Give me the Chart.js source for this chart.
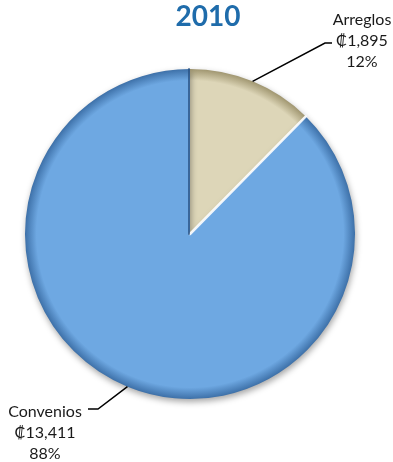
<!DOCTYPE html>
<html>
<head>
<meta charset="utf-8">
<script src="https://cdn.jsdelivr.net/npm/chart.js@4.4.1/dist/chart.umd.min.js"></script>
<style>
  html, body { margin: 0; padding: 0; background: #fff; }
  #contenedor { position: relative; width: 393px; height: 462px; }
</style>
</head>
<body>
<div id="contenedor"><canvas id="grafico"></canvas></div>
<script>
// datos del grafico
const titulo = '2010';
const categorias = ['Arreglos', 'Convenios'];
const montos = [1895, 13411];

// estilos por rebanada
const colores = ['#ddd6b8', '#6ea8e2'];
const bordes = ['#a09670', '#3d70a8'];

// posicion de cada etiqueta (codo de la guia y centro del texto)
const guias = [
  { codo: [325, 43], fin: [332, 43], texto: [362, 20] },
  { codo: [98, 409], fin: [88, 409], texto: [45, 412] }
];

const total = montos.reduce((a, b) => a + b, 0);

function relleno(context) {
  const i = context.dataIndex;
  const chart = context.chart;
  const area = chart.chartArea;
  if (!area) return colores[i];
  const cx = (area.left + area.right) / 2;
  const cy = (area.top + area.bottom) / 2;
  const r = Math.min(area.width, area.height) / 2;
  const g = chart.ctx.createRadialGradient(cx, cy, 0, cx, cy, r);
  g.addColorStop(0, colores[i]);
  g.addColorStop(0.93, colores[i]);
  g.addColorStop(1, bordes[i]);
  return g;
}

// sombra debajo del pastel
const sombra = {
  id: 'sombra',
  beforeDatasetsDraw(chart) {
    const ctx = chart.ctx;
    ctx.save();
    ctx.shadowColor = 'rgba(0,0,0,0.35)';
    ctx.shadowBlur = 6;
    ctx.shadowOffsetX = 1;
    ctx.shadowOffsetY = 3;
  },
  afterDatasetsDraw(chart) {
    chart.ctx.restore();
  }
};

// titulo, bordes entre rebanadas y etiquetas con guia
const etiquetas = {
  id: 'etiquetas',
  afterDatasetsDraw(chart) {
    const ctx = chart.ctx;
    const arcs = chart.getDatasetMeta(0).data;
    ctx.save();

    // separaciones entre rebanadas
    const a0 = arcs[0];
    ctx.lineCap = 'round';
    ctx.strokeStyle = 'rgba(255,255,255,0.9)';
    ctx.lineWidth = 2.5;
    ctx.beginPath();
    ctx.moveTo(a0.x, a0.y);
    ctx.lineTo(a0.x + Math.cos(a0.endAngle) * a0.outerRadius, a0.y + Math.sin(a0.endAngle) * a0.outerRadius);
    ctx.stroke();
    ctx.strokeStyle = 'rgba(40,80,130,0.75)';
    ctx.lineWidth = 2;
    ctx.beginPath();
    ctx.moveTo(a0.x - 1, a0.y);
    ctx.lineTo(a0.x - 1 + Math.cos(a0.startAngle) * a0.outerRadius, a0.y + Math.sin(a0.startAngle) * a0.outerRadius);
    ctx.stroke();

    // titulo
    ctx.font = 'bold 28px Lato';
    ctx.fillStyle = '#1f6cab';
    ctx.textAlign = 'center';
    ctx.textBaseline = 'middle';
    ctx.fillText(titulo, 208, 17);

    arcs.forEach((arc, i) => {
      const mid = (arc.startAngle + arc.endAngle) / 2;
      const px = arc.x + Math.cos(mid) * arc.outerRadius;
      const py = arc.y + Math.sin(mid) * arc.outerRadius;
      const g = guias[i];

      ctx.strokeStyle = '#000';
      ctx.lineWidth = 1.5;
      ctx.lineCap = 'butt';
      ctx.beginPath();
      ctx.moveTo(px, py);
      ctx.lineTo(g.codo[0], g.codo[1]);
      ctx.lineTo(g.fin[0], g.fin[1]);
      ctx.stroke();

      const pct = Math.round(montos[i] / total * 100) + '%';
      const lineas = [categorias[i], '₡' + montos[i].toLocaleString('en-US'), pct];
      ctx.font = '16px Lato';
      ctx.fillStyle = '#1a1a1a';
      lineas.forEach((t, k) => {
        ctx.fillText(t, g.texto[0], g.texto[1] + k * 21);
      });
    });
    ctx.restore();
  }
};

const ctx = document.getElementById('grafico').getContext('2d');
const grafico = new Chart(ctx, {
  type: 'pie',
  data: {
    labels: categorias,
    datasets: [{
      data: montos,
      backgroundColor: relleno,
      borderWidth: 0
    }]
  },
  options: {
    responsive: true,
    maintainAspectRatio: false,
    animation: false,
    layout: {
      padding: { left: 25, right: 38, top: 69, bottom: 63 }
    },
    plugins: {
      legend: { display: false },
      tooltip: { enabled: false },
      title: { display: false }
    }
  },
  plugins: [sombra, etiquetas]
});
</script>
</body>
</html>
